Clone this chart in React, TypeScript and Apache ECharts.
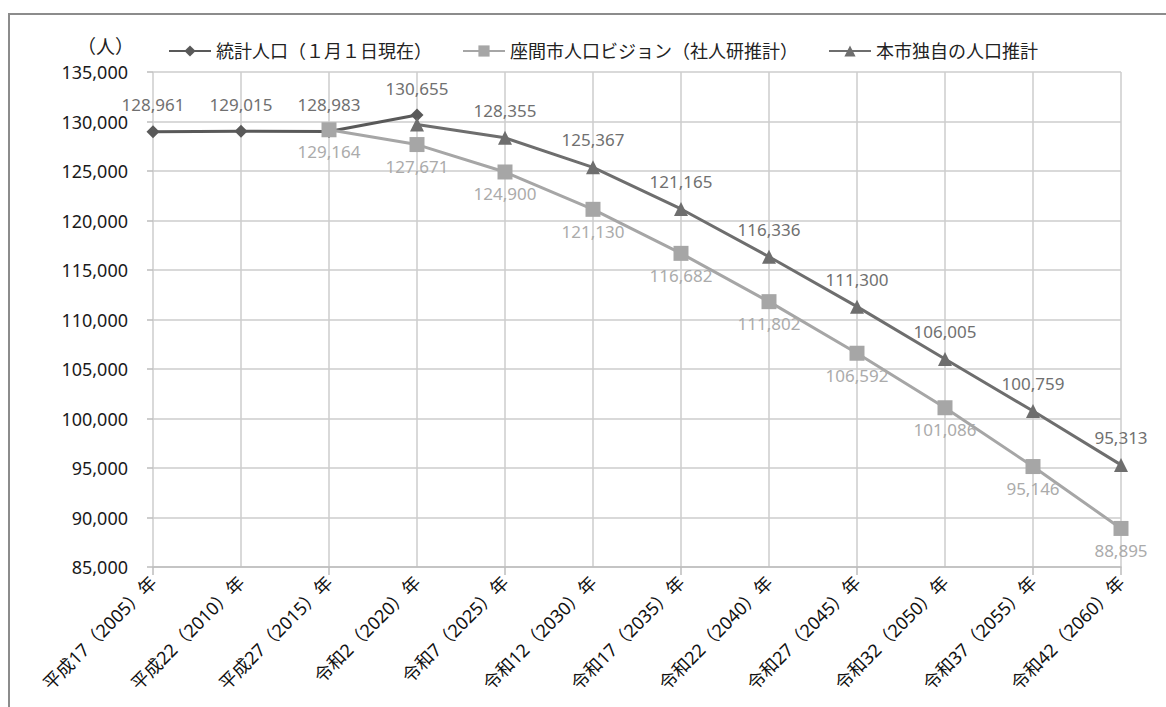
import React, { useEffect, useRef } from "react";
import * as echarts from "echarts";

const categories = [
  "平成17（2005）年",
  "平成22（2010）年",
  "平成27（2015）年",
  "令和2（2020）年",
  "令和7（2025）年",
  "令和12（2030）年",
  "令和17（2035）年",
  "令和22（2040）年",
  "令和27（2045）年",
  "令和32（2050）年",
  "令和37（2055）年",
  "令和42（2060）年",
];

const seriesNames = [
  "統計人口（１月１日現在）",
  "座間市人口ビジョン（社人研推計）",
  "本市独自の人口推計",
];

const statistics = [128961, 129015, 128983, 130655, null, null, null, null, null, null, null, null];
const vision = [null, null, 129164, 127671, 124900, 121130, 116682, 111802, 106592, 101086, 95146, 88895];
const own = [null, null, null, 129700, 128355, 125367, 121165, 116336, 111300, 106005, 100759, 95313];
const ownHiddenLabels = [3];

const yMin = 85000;
const yMax = 135000;
const yStep = 5000;

const fmt = (v: number) => v.toLocaleString("en-US");
const FONT = "'Noto Sans', 'Noto Sans CJK JP', sans-serif";

export default function App() {
  const ref = useRef<HTMLDivElement>(null);
  useEffect(() => {
    if (!ref.current) return;
    const chart = echarts.init(ref.current, null, { renderer: "svg" });
    const labelBase = { show: true, fontSize: 17, fontFamily: FONT };
    chart.setOption({
      animation: false,
      backgroundColor: "#ffffff",
      textStyle: { fontFamily: FONT },
      graphic: [
        {
          type: "rect",
          shape: { x: 9, y: 14, width: 1200, height: 720 },
          style: { fill: "none", stroke: "#8c8c8c", lineWidth: 2 },
          silent: true,
        },
        {
          type: "text",
          x: 77,
          y: 37,
          style: { text: "（人）", fontSize: 19, fontFamily: FONT, fill: "#222" },
        },
      ],
      legend: {
        left: 163,
        top: 37,
        itemGap: 30,
        itemWidth: 42,
        itemHeight: 14,
        textStyle: { fontSize: 18, color: "#222", fontFamily: FONT },
        data: seriesNames,
      },
      grid: { left: 153, top: 72, right: 45, bottom: 140 },
      xAxis: {
        type: "category",
        data: categories,
        boundaryGap: false,
        axisLine: { lineStyle: { color: "#bdbdbd", width: 1.5 } },
        axisTick: { show: true, interval: 1, length: 8, lineStyle: { color: "#bdbdbd", width: 1.5 } },
        splitLine: { show: true, lineStyle: { color: "#cccccc", width: 1.5 } },
        axisLabel: { rotate: 45, fontSize: 18, color: "#111", margin: 12, interval: 0, fontFamily: FONT },
      },
      yAxis: {
        type: "value",
        min: yMin,
        max: yMax,
        interval: yStep,
        axisLine: { show: false },
        axisTick: { show: true, length: 6, lineStyle: { color: "#bdbdbd", width: 1.5 } },
        splitLine: { show: true, lineStyle: { color: "#cccccc", width: 1.5 } },
        axisLabel: { fontSize: 18, color: "#1a1a1a", margin: 25, formatter: (v: number) => fmt(v), fontFamily: FONT },
      },
      series: [
        {
          name: seriesNames[0],
          type: "line",
          data: statistics,
          symbol: "diamond",
          symbolSize: 13,
          lineStyle: { color: "#595959", width: 3 },
          itemStyle: { color: "#595959" },
          label: { ...labelBase, position: "top", distance: 12, color: "#707070", formatter: (p: any) => fmt(p.value) },
          z: 3,
        },
        {
          name: seriesNames[1],
          type: "line",
          data: vision,
          symbol: "rect",
          symbolSize: 15,
          lineStyle: { color: "#a6a6a6", width: 3 },
          itemStyle: { color: "#a6a6a6" },
          label: { ...labelBase, position: "bottom", distance: 6, color: "#ababab", formatter: (p: any) => fmt(p.value) },
          z: 4,
        },
        {
          name: seriesNames[2],
          type: "line",
          data: own,
          symbol: "triangle",
          symbolSize: 14,
          lineStyle: { color: "#6e6e6e", width: 3 },
          itemStyle: { color: "#6e6e6e" },
          label: {
            ...labelBase,
            position: "top",
            distance: 12,
            color: "#707070",
            formatter: (p: any) => (ownHiddenLabels.includes(p.dataIndex) ? "" : fmt(p.value)),
          },
          z: 5,
        },
      ],
    });
    return () => chart.dispose();
  }, []);
  return (
    <div
      ref={ref}
      style={{ position: "absolute", left: 0, top: 0, width: 1166, height: 707 }}
    />
  );
}
